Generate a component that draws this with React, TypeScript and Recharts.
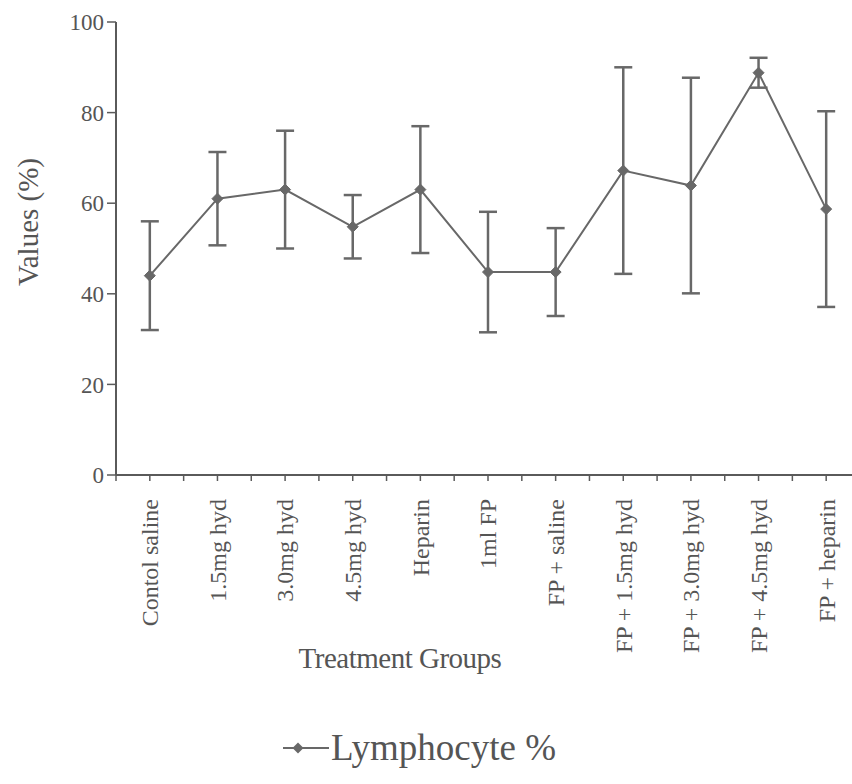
import React from "react";
import { LineChart, Line, XAxis, YAxis, ErrorBar, Legend, Label } from "recharts";

// Treatment groups along the x axis
const categories = [
  "Contol saline",
  "1.5mg hyd",
  "3.0mg hyd",
  "4.5mg hyd",
  "Heparin",
  "1ml FP",
  "FP + saline",
  "FP + 1.5mg hyd",
  "FP + 3.0mg hyd",
  "FP + 4.5mg hyd",
  "FP + heparin",
];

// Mean lymphocyte percentage per group
const lymphocyteMean = [44, 61, 63, 54.8, 63, 44.8, 44.8, 67.2, 63.9, 88.8, 58.7];

// Standard deviation per group (symmetric error bars)
const lymphocyteSD = [12, 10.3, 13, 7, 14, 13.3, 9.7, 22.8, 23.8, 3.3, 21.6];

const yTicks = [0, 20, 40, 60, 80, 100];

const data = categories.map((name, i) => ({
  idx: i,
  name,
  value: lymphocyteMean[i],
  err: lymphocyteSD[i],
}));

// ticks at category centres and at the boundaries between categories
const xTicks: number[] = [];
for (let i = -0.5; i <= categories.length - 0.5 + 1e-9; i += 0.5) xTicks.push(i);

const GREY = "#686868";
const AXIS = "#5a5a5a";
const TEXT = "#555555";
const FONT = "'Liberation Serif', 'Times New Roman', serif";

const Diamond = (props: any) => {
  const { cx, cy } = props;
  if (cx == null || cy == null) return null;
  const r = 5.5;
  return (
    <path
      d={`M${cx},${cy - r} L${cx + r},${cy} L${cx},${cy + r} L${cx - r},${cy} Z`}
      fill={GREY}
      stroke={GREY}
      strokeWidth={1}
    />
  );
};

const XTick = (props: any) => {
  const { x, y, payload } = props;
  const v = payload.value;
  if (Math.abs(v - Math.round(v)) > 1e-6) return null;
  const label = categories[Math.round(v)];
  if (!label) return null;
  return (
    <text
      x={x}
      y={y + 16}
      transform={`rotate(-90, ${x}, ${y + 16})`}
      textAnchor="end"
      dy="0.35em"
      style={{ fontFamily: FONT }}
      fontSize={24}
      fill={TEXT}
    >
      {label}
    </text>
  );
};

const LegendContent = () => (
  <div style={{ display: "flex", alignItems: "center", fontFamily: FONT }}>
    <svg width={46} height={20} style={{ marginRight: 2 }}>
      <line x1={0} y1={10} x2={46} y2={10} stroke={GREY} strokeWidth={2} />
      <path d="M15,4.5 L20.5,10 L15,15.5 L9.5,10 Z" fill={GREY} />
    </svg>
    <span style={{ fontSize: 37, color: TEXT, lineHeight: "40px" }}>Lymphocyte %</span>
  </div>
);

export default function App() {
  return (
    <div
      style={{
        position: "absolute",
        left: 0,
        top: 0,
        width: 852,
        height: 784,
        overflow: "hidden",
        background: "#fff",
      }}
    >
      <LineChart
        width={900}
        height={784}
        data={data}
        margin={{ top: 22, right: 40, left: 0, bottom: 109 }}
      >
        <XAxis
          dataKey="idx"
          type="number"
          domain={[-0.5, categories.length - 0.5]}
          ticks={xTicks}
          interval={0}
          height={200}
          tick={<XTick />}
          tickSize={6}
          axisLine={{ stroke: AXIS, strokeWidth: 2 }}
          tickLine={{ stroke: AXIS, strokeWidth: 1.5 }}
        >
          <Label
            value="Treatment Groups"
            position="insideBottom"
            offset={0}
            content={(p: any) => {
              const vb = p.viewBox;
              return (
                <text
                  x={400}
                  y={vb.y + 193}
                  textAnchor="middle"
                  style={{ fontFamily: FONT }}
                  fontSize={29}
                  fill={TEXT}
                  letterSpacing={-0.5}
                >
                  Treatment Groups
                </text>
              );
            }}
          />
        </XAxis>
        <YAxis
          type="number"
          domain={[0, 100]}
          ticks={yTicks}
          width={116}
          tickSize={9}
          tickMargin={3}
          tick={{ fontFamily: FONT, fontSize: 23, fill: TEXT }}
          axisLine={{ stroke: AXIS, strokeWidth: 2 }}
          tickLine={{ stroke: AXIS, strokeWidth: 1.5 }}
        >
          <Label
            value="Values (%)"
            content={() => (
              <text
                x={28}
                y={222}
                transform="rotate(-90, 28, 222)"
                textAnchor="middle"
                dy="0.35em"
                style={{ fontFamily: FONT }}
                fontSize={29}
                fill={TEXT}
              >
                Values (%)
              </text>
            )}
          />
        </YAxis>
        <Legend
          layout="horizontal"
          verticalAlign="middle"
          align="center"
          content={<LegendContent />}
          wrapperStyle={{ position: "absolute", left: 283, top: 728, width: 320 }}
        />
        <Line
          dataKey="value"
          name="Lymphocyte %"
          stroke={GREY}
          strokeWidth={2}
          dot={<Diamond />}
          activeDot={false}
          isAnimationActive={false}
        >
          <ErrorBar
            dataKey="err"
            width={9}
            stroke={GREY}
            strokeWidth={2.5}
            direction="y"
            isAnimationActive={false}
          />
        </Line>
      </LineChart>
    </div>
  );
}
